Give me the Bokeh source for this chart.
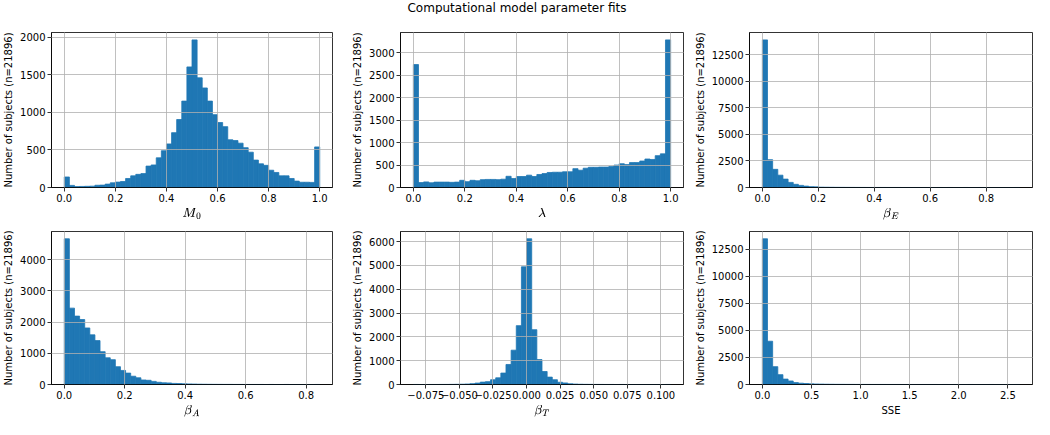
import numpy as np
from bokeh.plotting import figure
from bokeh.models import ColumnDataSource, FixedTicker, Range1d
from bokeh.layouts import column, row
from bokeh.embed import file_html
from bokeh.resources import INLINE
from bokeh.core.properties import value

TITLE = "Computational model parameter fits"
Y_LABEL = "Number of subjects (n=21896)"

# ---- data: 50-bin histogram counts per parameter, with the bin range ----
m0_range = (0.0, 1.0)
m0_counts = [140, 28, 12, 14, 16, 18, 30, 32, 45, 62,
             72, 80, 120, 155, 175, 185, 285, 300, 395, 490,
             580, 730, 905, 1150, 1605, 1965, 1460, 1325, 1150, 970,
             865, 810, 635, 625, 590, 530, 470, 365, 315, 295,
             230, 200, 155, 155, 120, 85, 70, 70, 68, 540]

lam_range = (0.0, 1.0)
lam_counts = [2740, 110, 125, 105, 120, 120, 120, 115, 120, 160,
              130, 160, 150, 175, 180, 180, 175, 185, 250, 200,
              245, 245, 275, 245, 290, 310, 335, 340, 340, 350,
              350, 420, 385, 430, 450, 450, 455, 455, 470, 500,
              530, 510, 555, 555, 590, 635, 625, 710, 750, 3290]

be_range = (0.0, 0.92)
be_counts = [13900, 2620, 1710, 1160, 790, 480, 300, 200, 130, 80,
             60, 30, 25, 20, 15, 12, 10, 8, 6, 5,
             4, 4, 3, 3, 2, 2, 2, 1, 1, 1,
             1, 1, 1, 0, 1, 0, 1, 0, 0, 1,
             0, 0, 1, 0, 0, 0, 0, 0, 0, 1]

ba_range = (0.0, 0.845)
ba_counts = [4665, 2445, 2190, 2080, 1810, 1590, 1405, 1050, 855, 795,
             570, 450, 365, 265, 215, 145, 135, 100, 72, 55,
             50, 35, 30, 22, 18, 14, 10, 8, 6, 5,
             4, 3, 3, 2, 2, 1, 1, 1, 1, 0,
             1, 0, 0, 1, 0, 0, 0, 0, 0, 1]

bt_range = (-0.0843, 0.1073)
bt_counts = [1, 0, 0, 1, 1, 2, 3, 5, 8, 12,
             20, 35, 60, 100, 120, 200, 280, 480, 840, 1440,
             2470, 4940, 6115, 2300, 1045, 545, 310, 200, 95, 65,
             30, 18, 10, 6, 4, 3, 2, 1, 1, 0,
             1, 0, 0, 0, 0, 0, 0, 0, 0, 1]

sse_range = (0.0, 2.62)
sse_counts = [13470, 4000, 1650, 910, 500, 325, 175, 120, 90, 60,
              45, 35, 25, 20, 15, 12, 10, 8, 7, 6,
              5, 4, 3, 3, 2, 2, 2, 1, 1, 1,
              1, 1, 1, 1, 0, 1, 0, 1, 0, 0,
              1, 0, 0, 0, 1, 0, 0, 0, 0, 1]

# ---- tick values and labels ----
x_ticks_unit = [0.0, 0.2, 0.4, 0.6, 0.8, 1.0]
x_labels_unit = ["0.0", "0.2", "0.4", "0.6", "0.8", "1.0"]
x_ticks_be = [0.0, 0.2, 0.4, 0.6, 0.8]
x_labels_be = ["0.0", "0.2", "0.4", "0.6", "0.8"]
x_ticks_bt = [-0.075, -0.05, -0.025, 0.0, 0.025, 0.05, 0.075, 0.1]
x_labels_bt = ["\u22120.075", "\u22120.050", "\u22120.025", "0.000", "0.025", "0.050", "0.075", "0.100"]
x_ticks_sse = [0.0, 0.5, 1.0, 1.5, 2.0, 2.5]
x_labels_sse = ["0.0", "0.5", "1.0", "1.5", "2.0", "2.5"]

y_ticks_m0 = [0, 500, 1000, 1500, 2000]
y_ticks_lam = [0, 500, 1000, 1500, 2000, 2500, 3000]
y_ticks_be = [0, 2500, 5000, 7500, 10000, 12500]
y_ticks_ba = [0, 1000, 2000, 3000, 4000]
y_ticks_bt = [0, 1000, 2000, 3000, 4000, 5000, 6000]
y_ticks_sse = [0, 2500, 5000, 7500, 10000, 12500]

FONT = "DejaVu Sans"
BAR = "#1f77b4"
FRAME_W = 283
FRAME_H = 155


def panel(counts, rng, xlabel, xticks, xlabels, yticks, bl, br, bt, bb):
    counts = np.asarray(counts, dtype=float)
    lo, hi = rng
    edges = np.linspace(lo, hi, len(counts) + 1)
    span = hi - lo
    p = figure(width=bl + FRAME_W + br, height=bt + FRAME_H + bb,
               output_backend="svg", toolbar_location=None,
               x_range=Range1d(lo - 0.05 * span, hi + 0.05 * span),
               y_range=Range1d(0, counts.max() * 1.05),
               min_border_left=bl, min_border_right=br,
               min_border_top=bt, min_border_bottom=bb)
    src = ColumnDataSource(dict(left=edges[:-1], right=edges[1:], top=counts))
    p.quad(left="left", right="right", bottom=0, top="top", source=src,
           fill_color=BAR, line_color=BAR, line_width=0.8)

    p.xaxis.ticker = FixedTicker(ticks=xticks)
    p.xaxis.major_label_overrides = {float(t): l for t, l in zip(xticks, xlabels)}
    p.yaxis.ticker = FixedTicker(ticks=yticks)
    p.yaxis.major_label_overrides = {int(t): str(t) for t in yticks}
    p.xgrid.ticker = FixedTicker(ticks=xticks)
    p.ygrid.ticker = FixedTicker(ticks=yticks)
    p.grid.grid_line_color = "#b0b0b0"
    p.grid.grid_line_width = 0.8
    p.grid.level = "overlay"

    p.xaxis.axis_label = xlabel
    p.yaxis.axis_label = Y_LABEL
    for ax in (p.xaxis[0], p.yaxis[0]):
        ax.axis_line_color = "black"
        ax.axis_line_width = 0.8
        ax.major_tick_line_color = "black"
        ax.major_tick_line_width = 0.8
        ax.major_tick_out = 4
        ax.major_tick_in = 0
        ax.minor_tick_line_color = None
        ax.major_label_text_font = FONT
        ax.major_label_text_font_size = "10px"
        ax.major_label_text_color = "black"
        ax.major_label_standoff = 2
        ax.axis_label_text_font = FONT
        ax.axis_label_text_font_size = "10px"
        ax.axis_label_text_font_style = "normal"
        ax.axis_label_text_color = "black"
        ax.axis_label_standoff = 3
    p.outline_line_color = "black"
    p.outline_line_width = 0.8
    p.outline_line_alpha = 1.0
    p.background_fill_color = "white"
    p.border_fill_color = "white"
    return p


BL = [49, 60, 58]
BR = [8, 8, 1]
TOP_ROW = (18, 36)      # border top / bottom of the upper row
BOT_ROW = (8, 33)       # border top / bottom of the lower row

p1 = panel(m0_counts, m0_range, r"$$M_0$$", x_ticks_unit, x_labels_unit, y_ticks_m0, BL[0], BR[0], *TOP_ROW)
p2 = panel(lam_counts, lam_range, r"$$\lambda$$", x_ticks_unit, x_labels_unit, y_ticks_lam, BL[1], BR[1], *TOP_ROW)
p3 = panel(be_counts, be_range, r"$$\beta_E$$", x_ticks_be, x_labels_be, y_ticks_be, BL[2], BR[2], *TOP_ROW)
p4 = panel(ba_counts, ba_range, r"$$\beta_A$$", x_ticks_be, x_labels_be, y_ticks_ba, BL[0], BR[0], *BOT_ROW)
p5 = panel(bt_counts, bt_range, r"$$\beta_T$$", x_ticks_bt, x_labels_bt, y_ticks_bt, BL[1], BR[1], *BOT_ROW)
p6 = panel(sse_counts, sse_range, "SSE", x_ticks_sse, x_labels_sse, y_ticks_sse, BL[2], BR[2], *BOT_ROW)

total_w = sum(BL) + sum(BR) + 3 * FRAME_W
t = figure(width=total_w, height=14, output_backend="svg", toolbar_location=None,
           x_range=Range1d(0, 1), y_range=Range1d(0, 1), min_border=0)
t.axis.visible = False
t.grid.visible = False
t.outline_line_color = None
t.text(x=[0.5], y=[0.5], text=[TITLE], text_align="center", text_baseline="middle",
       text_font=value(FONT), text_font_size="12px", text_color="black")

layout = column(t, row(p1, p2, p3), row(p4, p5, p6))

with open("out.html", "w") as f:
    f.write(file_html(layout, INLINE))
